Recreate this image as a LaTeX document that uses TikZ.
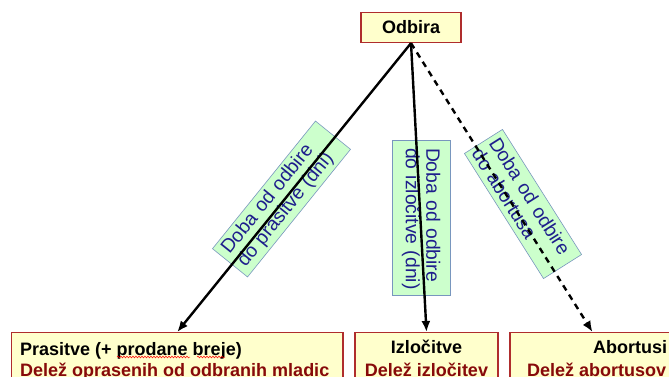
\documentclass[tikz,border=0pt]{standalone}
\usepackage{fontspec}
\setmainfont{Liberation Sans}
\usetikzlibrary{arrows.meta,decorations.pathmorphing}

\definecolor{boxfill}{HTML}{FFFFCC}
\definecolor{boxline}{RGB}{175,45,45}
\definecolor{ratetext}{RGB}{135,10,10}
\definecolor{tagfill}{HTML}{CCFFCC}
\definecolor{tagline}{RGB}{120,150,190}
\definecolor{tagtext}{RGB}{30,30,140}

\tikzset{
  stagebox/.style={draw=boxline, line width=1.3pt, fill=boxfill, inner sep=0pt, anchor=north},
  headtext/.style={font=\fontsize{18}{21}\selectfont\bfseries, inner sep=0pt},
  ratelabel/.style={headtext, text=ratetext},
  durtag/.style={draw=tagline, line width=0.6pt, fill=tagfill, text=tagtext,
    font=\fontsize{19.3}{20.5}\selectfont, align=left, inner ysep=0pt},
  flow/.style={line width=2.4pt, -{Latex[length=11pt,width=9pt]}},
  spellmark/.style={red, line width=0.5pt, decorate,
    decoration={snake, amplitude=0.9pt, segment length=3pt}}
}

\begin{document}
\begin{tikzpicture}[x=1pt,y=1pt]
\useasboundingbox (0,0) rectangle (669,376);
\clip (0,0) rectangle (669,376);

% top box
\node[draw=boxline, line width=1.3pt, fill=boxfill, minimum width=100pt, minimum height=30pt,
      inner sep=0pt, font=\fontsize{18}{21}\selectfont\bfseries] (odb) at (411,348.5) {Odbira};

% outcome boxes
\node[stagebox, minimum width=331.5pt, minimum height=70pt] (pras) at (177.25,44) {};
\node[stagebox, minimum width=143pt, minimum height=70pt] (izl) at (426.5,44) {};
\node[stagebox, minimum width=165pt, minimum height=70pt] (abo) at (592.5,44) {};

\node[headtext, anchor=base west] (prasA) at (20,21) {Prasitve (+ prodane breje)};
\node[ratelabel, anchor=base west] (prasB) at (20,0) {Delež oprasenih od odbranih mladic};
\draw[spellmark] (117,19) -- (190,19);
\draw[spellmark] (197,19) -- (225,19);

\node[headtext, anchor=base] (izlA) at (426.5,23) {Izločitve};
\node[ratelabel, anchor=base] (izlB) at (426.5,0) {Delež izločitev};

\node[headtext, anchor=base west] (aboA) at (593,23) {Abortusi};
\node[ratelabel, anchor=base west] (aboB) at (527,0) {Delež abortusov};

% duration tags along the connectors
\node[durtag, rotate=51.1, minimum width=164pt, minimum height=45pt, text width=152pt, inner xsep=6pt]
  (tagP) at (281.5,177) {Doba od odbire\\do prasitve (dni)};
\node[durtag, rotate=-90, minimum width=155pt, minimum height=58pt, text width=147pt, inner xsep=4pt]
  (tagI) at (421,158.5) {\hspace*{4pt}Doba od odbire\\\hspace*{4pt}do izločitve (dni)};
\node[durtag, rotate=-57.7, minimum width=148pt, minimum height=45pt, text width=140pt, inner xsep=4pt]
  (tagA) at (523,172) {Doba od odbire\\do abortusa};

% connectors
\draw[flow] (odb.south) -- (pras.north);
\draw[flow] (odb.south) -- (izl.north);
\draw[flow, dash pattern=on 6pt off 5pt] (odb.south) -- (abo.north);
\end{tikzpicture}
\end{document}
